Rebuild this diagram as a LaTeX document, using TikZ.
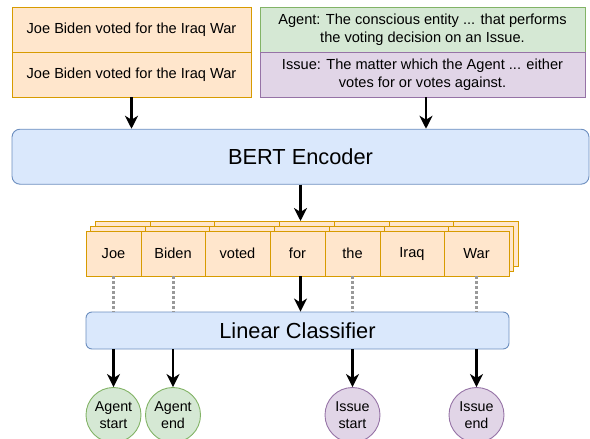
\documentclass[tikz,border=0pt]{standalone}
\usepackage{fontspec}
\setmainfont{Liberation Sans}
\usetikzlibrary{arrows.meta}
\definecolor{sentfill}{HTML}{FFE6CC}
\definecolor{sentline}{HTML}{D79B00}
\definecolor{agentfill}{HTML}{D5E8D4}
\definecolor{agentline}{HTML}{82B366}
\definecolor{issuefill}{HTML}{E1D5E7}
\definecolor{issueline}{HTML}{9673A6}
\definecolor{encfill}{HTML}{DAE8FC}
\definecolor{encline}{HTML}{6C8EBF}
\definecolor{dotgray}{HTML}{999999}

\begin{document}
\begin{tikzpicture}[x=1pt,y=-1pt]
    \tikzstyle{every node}=[inner sep=0pt,font=\fontsize{14.6}{17.5}\selectfont];
    \tikzstyle{sentbox}=[draw=sentline,fill=sentfill,line width=0.9pt,minimum width=239pt,minimum height=45pt];
    \tikzstyle{defbox}=[line width=0.9pt,minimum width=325pt,minimum height=45pt,align=center];
    \tikzstyle{tok}=[draw=sentline,fill=sentfill,line width=0.9pt,minimum height=45pt];
    \tikzstyle{layer}=[rounded corners=8pt,draw=encline,fill=encfill,line width=0.9pt,font=\fontsize{21.8}{26}\selectfont];
    \tikzstyle{role}=[circle,minimum size=55pt,line width=0.9pt,align=center,font=\fontsize{14.3}{16.6}\selectfont];
    \tikzstyle{flow}=[draw,line width=2.2pt,-{Stealth[length=13pt,width=13pt,inset=4pt]}];
    \tikzstyle{skip}=[draw=dotgray,line width=3pt,dash pattern=on 2.5pt off 2.5pt];
    \useasboundingbox (0,0) rectangle (590,439);

    % inputs
    \node[sentbox] at (131.5, 29.5) (sentA) {Joe Biden voted for the Iraq War};
    \node[sentbox] at (131.5, 74.5) (sentB) {Joe Biden voted for the Iraq War};
    \node[defbox,draw=agentline,fill=agentfill] at (422.5, 29.5) (agent) {Agent: The conscious entity ... that performs\\the voting decision on an Issue.};
    \node[defbox,draw=issueline,fill=issuefill] at (422.5, 74.5) (issue) {Issue: The matter which the Agent ... either\\votes for or votes against.};

    \node[layer,minimum width=577pt,minimum height=55pt] at (300.5, 156.7) (bert) {BERT Encoder};

    % token stack
    \foreach \d in {2,1}
      \foreach \a/\b in {86/141,141/205,205/270,270/325,325/380,380/444,444/509}
        \draw[sentline,fill=sentfill,line width=0.9pt] ({\a+4.7*\d},{231-5*\d}) rectangle ({\b+4.7*\d},{276-5*\d});
    \node[tok,minimum width=55pt] at (113.5, 253.5) (joe) {Joe};
    \node[tok,minimum width=64pt] at (173, 253.5) (biden) {Biden};
    \node[tok,minimum width=65pt] at (237.5, 253.5) (voted) {voted};
    \node[tok,minimum width=55pt] at (297.5, 253.5) (for) {for};
    \node[tok,minimum width=55pt] at (352.5, 253.5) (the) {the};
    \node[tok,minimum width=64pt] at (412, 253.5) (iraq) {Iraq};
    \node[tok,minimum width=65pt] at (476.5, 253.5) (war) {War};

    \node[layer,rounded corners=6pt,minimum width=423pt,minimum height=37pt] at (297.5, 330.5) (cls) {Linear Classifier};

    \node[role,draw=agentline,fill=agentfill] at (113.5, 415) (ags) {Agent\\start};
    \node[role,draw=agentline,fill=agentfill] at (173, 415) (age) {Agent\\end};
    \node[role,draw=issueline,fill=issuefill] at (352.5, 415) (iss) {Issue\\start};
    \node[role,draw=issueline,fill=issuefill] at (476.5, 415) (ise) {Issue\\end};

    \draw[flow] (sentB.south) -- (sentB.south |- bert.north);
    \draw[flow] ([xshift=3.5pt]issue.south) -- ([xshift=3.5pt]issue.south |- bert.north);
    \draw[flow] (bert.south) -- (bert.south |- 0,221);
    \draw[flow] (for.south -| bert.south) -- (cls.north -| bert.south);
    \draw[skip] (joe.south) -- (joe.south |- cls.north);
    \draw[skip] (biden.south) -- (biden.south |- cls.north);
    \draw[skip] (the.south) -- (the.south |- cls.north);
    \draw[skip] (war.south) -- (war.south |- cls.north);
    \draw[flow] (cls.south -| ags.north) -- (ags.north);
    \draw[flow] (cls.south -| age.north) -- (age.north);
    \draw[flow] (cls.south -| iss.north) -- (iss.north);
    \draw[flow] (cls.south -| ise.north) -- (ise.north);
\end{tikzpicture}
\end{document}
